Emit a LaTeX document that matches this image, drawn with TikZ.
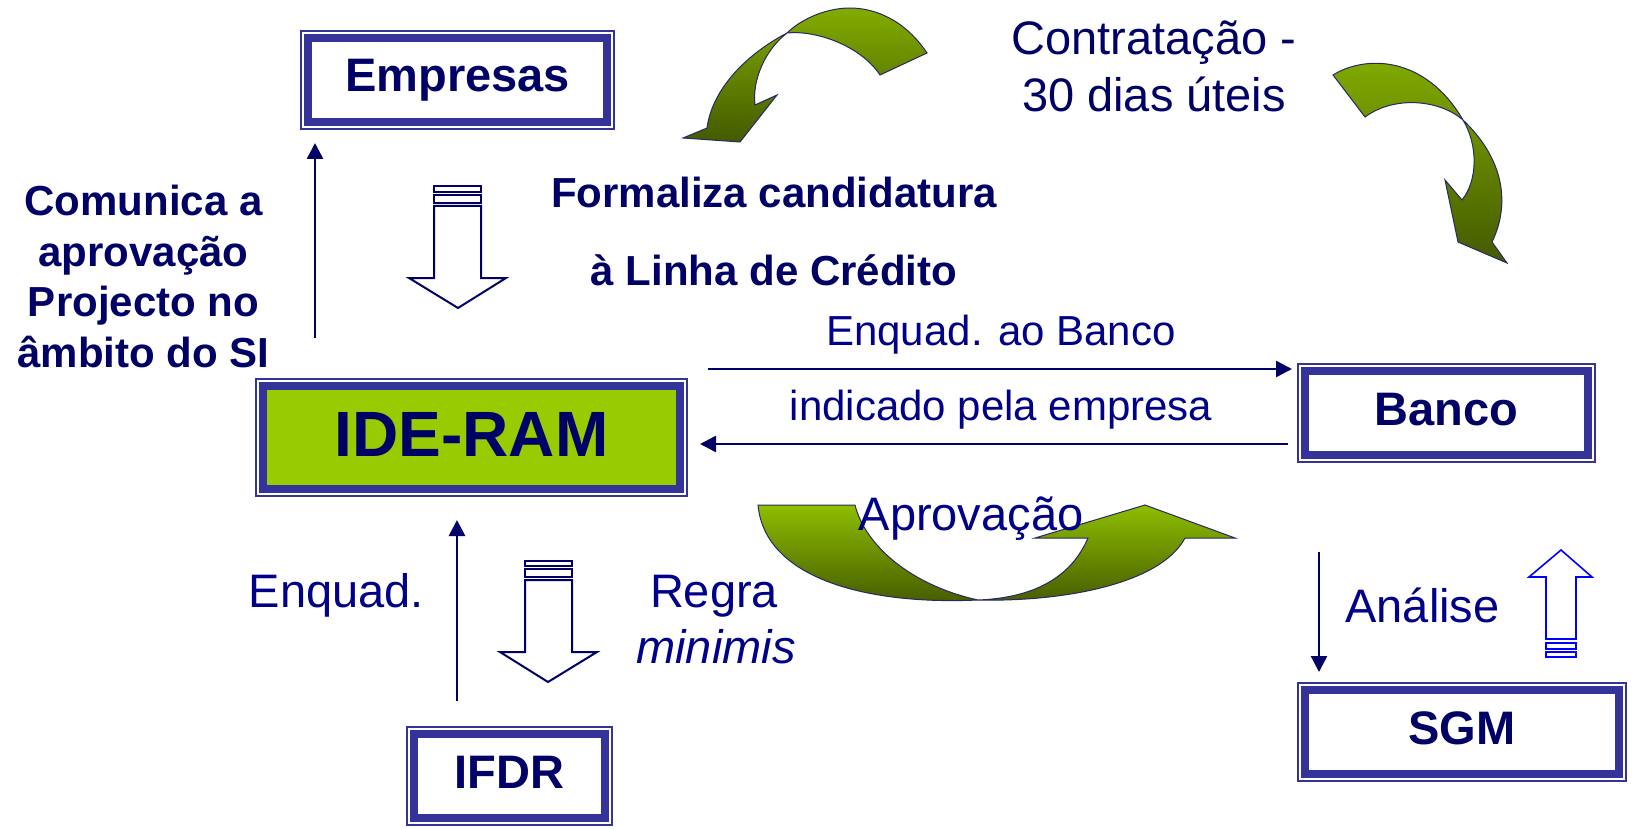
\documentclass[tikz,border=0pt]{standalone}
\usepackage{fontspec}
\setmainfont{Liberation Sans}
\usetikzlibrary{arrows.meta}
\definecolor{navy}{RGB}{0,0,102}
\definecolor{txtblue}{RGB}{0,0,136}
\definecolor{boxline}{RGB}{51,51,153}
\definecolor{ideg}{RGB}{153,204,0}
\definecolor{gtop}{RGB}{130,172,0}
\definecolor{gtopb}{RGB}{142,190,0}
\definecolor{gbot}{RGB}{68,90,0}
\definecolor{gedge}{RGB}{40,40,100}
\definecolor{bblue}{RGB}{0,0,255}
\begin{document}
\begin{tikzpicture}[x=1pt,y=-1pt,
  boxnode/.style={draw=boxline,line width=8pt,inner sep=0pt,outer sep=0pt,text=navy,
    font=\bfseries\fontsize{47}{56}\selectfont,text height=34pt,text depth=10pt},
  frameline/.style={draw=boxline,line width=2pt},
  conn/.style={draw=navy,line width=2.5pt,-{Triangle[length=16pt,width=16pt]}},
  blockarrow/.style={draw=navy,line width=2pt,fill=white,line join=miter},
  bluearrow/.style={draw=bblue,line width=1.6pt,fill=white,line join=miter},
  greenarrow/.style={draw=gedge,line width=1pt,top color=gtop,bottom color=gbot},
  lbl/.style={text=txtblue,font=\fontsize{42}{50}\selectfont,inner sep=0pt,anchor=base},
  lblbig/.style={text=txtblue,font=\fontsize{47}{56}\selectfont,inner sep=0pt,anchor=base},
  lblbold/.style={text=navy,font=\bfseries\fontsize{42}{50}\selectfont,inner sep=0pt,anchor=base},
]
\fill[white] (0,0) rectangle (1633,829);
\useasboundingbox (0,0) rectangle (1633,829);

% ---- green curved arrows ----
\path[greenarrow] (927,53) .. controls (905,20) and (875,8) .. (850,8)
  .. controls (825,8) and (800,20) .. (787,33)
  .. controls (745,55) and (712,90) .. (707,128)
  -- (683,138) -- (740,142) -- (777,95) -- (755,105)
  .. controls (752,80) and (765,50) .. (787,33)
  .. controls (815,30) and (860,45) .. (880,75) -- cycle;

\path[greenarrow] (1333,75) .. controls (1365,55) and (1425,55) .. (1463,120)
  .. controls (1478,145) and (1478,180) .. (1462,200)
  -- (1445,180) -- (1458,242) -- (1507,263) -- (1492,242)
  .. controls (1510,205) and (1505,160) .. (1463,120)
  .. controls (1440,100) and (1395,95) .. (1365,117) -- cycle;

\path[greenarrow,top color=gtopb] (758,505) -- (855,505)
  .. controls (865,545) and (910,585) .. (978,600)
  .. controls (1060,602) and (1160,585) .. (1185,538)
  -- (1235,538) -- (1145,505) -- (1035,538) -- (1088,538)
  .. controls (1070,580) and (1030,598) .. (978,600)
  .. controls (870,605) and (765,580) .. (758,505) -- cycle;

% ---- boxes ----
\node[boxnode,minimum width=299pt,minimum height=84pt] (E) at (457.5,80) {Empresas};
\node[boxnode,fill=ideg,minimum width=417pt,minimum height=103pt,
  font=\bfseries\fontsize{64}{76}\selectfont,text height=46pt,text depth=9pt] (I) at (471.5,437.5) {IDE-RAM};
\node[boxnode,minimum width=283pt,minimum height=84pt] (B) at (1446.5,413) {Banco};
\node[boxnode,minimum width=314pt,minimum height=84pt] (S) at (1462,732) {SGM};
\node[boxnode,minimum width=191pt,minimum height=84pt] (F) at (509.5,776) {IFDR};
\foreach \n in {E,I,B,S,F}
  \draw[frameline] ([xshift=-7pt,yshift=7pt]\n.north west) rectangle ([xshift=7pt,yshift=-7pt]\n.south east);

% ---- connectors ----
\coordinate (c1a) at (315,338); \coordinate (c1b) at (315,143);
\coordinate (c2a) at (457,701); \coordinate (c2b) at (457,520);
\coordinate (c3a) at (708,369); \coordinate (c3b) at (1292,369);
\coordinate (c4a) at (1288,444); \coordinate (c4b) at (700,444);
\coordinate (c5a) at (1319,552); \coordinate (c5b) at (1319,672);
\draw[conn] (c1a) -- (c1b);
\draw[conn] (c2a) -- (c2b);
\draw[conn] (c3a) -- (c3b);
\draw[conn] (c4a) -- (c4b);
\draw[conn] (c5a) -- (c5b);

% ---- block arrows ----
\draw[blockarrow] (434,186) rectangle (481,192);
\draw[blockarrow] (434,195) rectangle (481,203);
\draw[blockarrow] (434,206) -- (481,206) -- (481,278) -- (506,278) -- (458,308) -- (409,278) -- (434,278) -- cycle;

\draw[blockarrow] (525,561) rectangle (572,566);
\draw[blockarrow] (525,569) rectangle (572,577);
\draw[blockarrow] (525,580) -- (572,580) -- (572,652) -- (597,652) -- (548,682) -- (500,652) -- (525,652) -- cycle;

\draw[bluearrow] (1561,550) -- (1592,577) -- (1576,577) -- (1576,639) -- (1546,639) -- (1546,577) -- (1529,577) -- cycle;
\draw[bluearrow] (1546,643) rectangle (1576,649);
\draw[bluearrow] (1546,652) rectangle (1576,657);

% ---- labels ----
\node[text=navy,font=\bfseries\fontsize{42}{50.5}\selectfont,align=center,inner sep=0pt,anchor=north] (lcom) at (143.5,185)
  {Comunica a\\aprovação\\Projecto no\\âmbito do SI};
\node[lblbold] (lform) at (774,208) {Formaliza candidatura};
\node[lblbold] (llin) at (774,285) {à Linha de Crédito};
\node[lblbig,text=navy] (lcon) at (1154,55) {Contratação -};
\node[lblbig,text=navy] (ldias) at (1154,112) {30 dias úteis};
\node[lbl] (lenq) at (1001,345) {Enquad. ao Banco};
\node[lbl] (lind) at (1001,420) {indicado pela empresa};
\node[lblbig] (lapr) at (971,530) {Aprovação};
\node[lblbig] (lenq2) at (336.5,607) {Enquad.};
\node[lblbig] (lreg) at (714,607) {Regra};
\node[lblbig,font=\itshape\fontsize{47}{56}\selectfont] (lmin) at (716,663) {minimis};
\node[lblbig] (lana) at (1422.5,622) {Análise};
\end{tikzpicture}
\end{document}
